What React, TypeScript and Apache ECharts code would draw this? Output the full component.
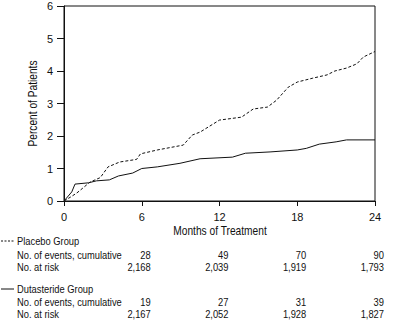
import React, { useEffect, useRef } from "react";
import * as echarts from "echarts";

// Cumulative percent of patients with an event over time (months, percent)
const placeboMonths = [0, 0.5, 1.0, 1.4, 2.0, 2.8, 3.4, 4.3, 5.6, 5.9, 7.2, 9.2, 9.9, 10.5, 12.0, 13.7, 14.6, 15.7, 16.4, 17.3, 18.0, 19.2, 20.3, 20.9, 21.8, 22.6, 23.1, 24.0];
const placeboPct = [0, 0.12, 0.25, 0.38, 0.58, 0.72, 1.05, 1.2, 1.28, 1.45, 1.57, 1.72, 2.03, 2.12, 2.49, 2.58, 2.83, 2.89, 3.1, 3.5, 3.66, 3.78, 3.88, 4.0, 4.09, 4.22, 4.43, 4.6];

const dutasterideMonths = [0, 0.6, 0.85, 1.9, 2.5, 3.5, 4.2, 5.3, 6.0, 7.2, 8.95, 10.5, 13.0, 14.0, 15.9, 18.0, 18.7, 19.7, 21.0, 21.8, 24.0];
const dutasteridePct = [0, 0.28, 0.52, 0.56, 0.62, 0.65, 0.77, 0.86, 1.0, 1.05, 1.16, 1.3, 1.35, 1.47, 1.51, 1.57, 1.62, 1.75, 1.82, 1.88, 1.88];

// Risk table below the axis
const tableMonths = [6, 12, 18, 24];
const placeboEvents = ["28", "49", "70", "90"];
const placeboAtRisk = ["2,168", "2,039", "1,919", "1,793"];
const dutasterideEvents = ["19", "27", "31", "39"];
const dutasterideAtRisk = ["2,167", "2,052", "1,928", "1,827"];

const FONT = "'Liberation Sans', Arial, sans-serif";
const INK = "#111";
const NARROW = 0.85;

export default function App() {
  const ref = useRef<HTMLDivElement>(null);

  useEffect(() => {
    if (!ref.current) return;
    const chart = echarts.init(ref.current, null, { renderer: "svg" });

    const gridLeft = 64;
    const gridTop = 6;
    const gridWidth = 311;
    const gridHeight = 195;
    const xPix = (m: number) => gridLeft + (m / 24) * gridWidth;

    // condensed-looking text: regular sans squeezed horizontally
    const text = (t: string, x: number, y: number, align: string = "left", size = 11, rotation = 0) => ({
      type: "text",
      x,
      y,
      rotation,
      scaleX: NARROW,
      style: { text: t, x: 0, y: 0, fill: INK, font: `${size}px ${FONT}`, textAlign: align, textVerticalAlign: "middle" },
    });

    const graphics: any[] = [];
    // axis titles
    graphics.push(text("Months of Treatment", gridLeft + gridWidth / 2 + 0.5, 231, "center", 12));
    graphics.push(text("Percent of Patients", 33, gridTop + gridHeight / 2, "center", 12, Math.PI / 2));

    // Placebo block
    graphics.push({ type: "line", shape: { x1: 1, y1: 241, x2: 14, y2: 241 }, style: { stroke: INK, lineWidth: 1, lineDash: [2, 1.5] } });
    graphics.push(text("Placebo Group", 17, 241));
    graphics.push(text("No. of events, cumulative", 17, 255));
    graphics.push(text("No. at risk", 17, 267));
    // Dutasteride block
    graphics.push({ type: "line", shape: { x1: 1, y1: 289, x2: 14, y2: 289 }, style: { stroke: INK, lineWidth: 1 } });
    graphics.push(text("Dutasteride Group", 17, 289));
    graphics.push(text("No. of events, cumulative", 17, 302));
    graphics.push(text("No. at risk", 17, 314));

    tableMonths.forEach((m, i) => {
      const x = xPix(m) + 9;
      graphics.push(text(placeboEvents[i], x, 255, "right"));
      graphics.push(text(placeboAtRisk[i], x, 267, "right"));
      graphics.push(text(dutasterideEvents[i], x, 302, "right"));
      graphics.push(text(dutasterideAtRisk[i], x, 314, "right"));
    });

    chart.setOption({
      animation: false,
      backgroundColor: "#fff",
      grid: {
        left: gridLeft,
        top: gridTop,
        width: gridWidth,
        height: gridHeight,
        show: true,
        borderColor: INK,
        borderWidth: 1,
        backgroundColor: "transparent",
      },
      xAxis: {
        type: "value",
        min: 0,
        max: 24,
        interval: 6,
        axisLine: { show: true, lineStyle: { color: INK, width: 1 } },
        axisTick: { show: true, length: 5, lineStyle: { color: INK } },
        axisLabel: { fontFamily: FONT, fontSize: 11, color: INK, margin: 10 },
        splitLine: { show: false },
      },
      yAxis: {
        type: "value",
        min: 0,
        max: 6,
        interval: 1,
        axisLine: { show: true, lineStyle: { color: INK, width: 1 } },
        axisTick: { show: true, length: 7, lineStyle: { color: INK } },
        axisLabel: { fontFamily: FONT, fontSize: 11, color: INK, margin: 11 },
        splitLine: { show: false },
      },
      series: [
        {
          name: "Placebo Group",
          type: "line",
          data: placeboMonths.map((m, i) => [m, placeboPct[i]]),
          showSymbol: false,
          lineStyle: { color: INK, width: 1, type: [3, 2] },
        },
        {
          name: "Dutasteride Group",
          type: "line",
          data: dutasterideMonths.map((m, i) => [m, dutasteridePct[i]]),
          showSymbol: false,
          lineStyle: { color: INK, width: 1 },
        },
      ],
      graphic: graphics,
    });

    return () => chart.dispose();
  }, []);

  return (
    <div
      ref={ref}
      style={{ position: "absolute", left: 0, top: 0, width: 400, height: 326, background: "#fff" }}
    />
  );
}
